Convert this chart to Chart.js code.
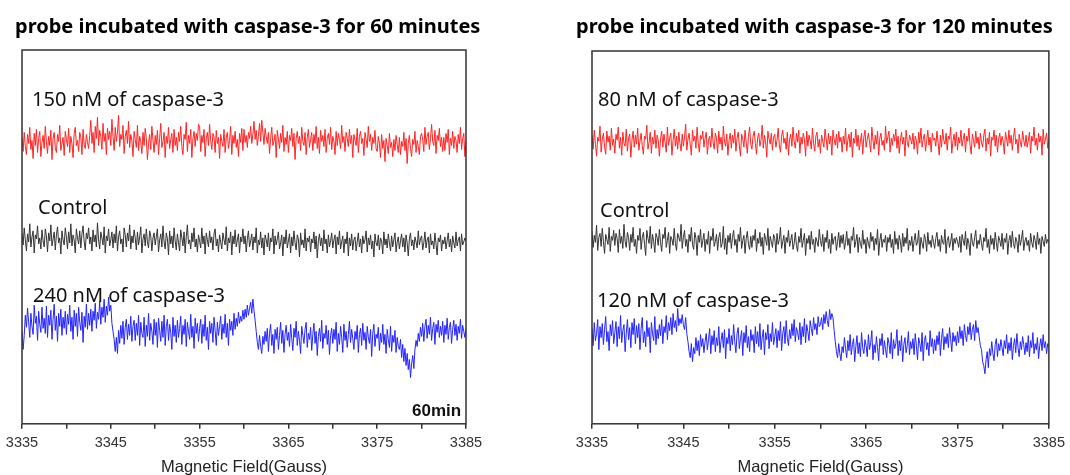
<!DOCTYPE html>
<html>
<head>
<meta charset="utf-8">
<script src="https://cdn.jsdelivr.net/npm/chart.js@4"></script>
<style>
  body { margin: 0; background: #fff; width: 1070px; height: 475px; position: relative; overflow: hidden; }
  canvas { position: absolute; top: 0; }
  .titulo { position: absolute; font-family: "Noto Sans", sans-serif; font-weight: bold; font-size: 20px; color: #000; white-space: nowrap; line-height: 28px; }
  .etiqueta { position: absolute; font-family: "Noto Sans", sans-serif; font-size: 20px; color: #111; white-space: nowrap; line-height: 24px; }
  .marca { position: absolute; font-family: "Liberation Sans", Arial, sans-serif; font-weight: bold; font-size: 17px; color: #111; line-height: 20px; }
</style>
</head>
<body>
<canvas id="graficoIzq" width="540" height="477" style="left:0"></canvas>
<canvas id="graficoDer" width="530" height="477" style="left:540px"></canvas>

<div class="titulo" style="left:15px; top:12px">probe incubated with caspase-3 for 60 minutes</div>
<div class="titulo" style="left:576px; top:12px">probe incubated with caspase-3 for 120 minutes</div>

<div class="etiqueta" style="left:32px; top:87px">150 nM of caspase-3</div>
<div class="etiqueta" style="left:38px; top:195px">Control</div>
<div class="etiqueta" style="left:33px; top:283px">240 nM of caspase-3</div>
<div class="marca" style="left:412px; top:401px">60min</div>

<div class="etiqueta" style="left:598px; top:87px">80 nM of caspase-3</div>
<div class="etiqueta" style="left:600px; top:198px">Control</div>
<div class="etiqueta" style="left:597px; top:288px">120 nM of caspase-3</div>

<script>
// campo magnetico: 3335 a 3385 G, una muestra cada 0.125 G
const campoInicio = 3335;
const campoPaso = 0.125;
const etiquetasCampo = [3335, 3345, 3355, 3365, 3375, 3385];

// 60 minutos
const rojo60 = [
  285,271,290,276,268,288,279,295,273,282,264,289,277,293,270,284,291,266,280,287,
  274,296,281,269,286,277,292,263,284,290,275,270,288,281,297,272,279,285,267,291,
  283,276,294,270,286,279,265,289,295,277,282,271,290,285,268,293,278,274,288,280,
  274,287,302,279,290,270,296,284,305,277,292,286,273,299,281,289,268,294,283,291,
  277,303,286,272,295,281,290,307,276,288,283,297,269,286,292,279,301,275,288,282,
  266,291,283,275,297,272,286,281,269,290,277,294,284,263,279,288,273,296,282,270,
  287,278,292,268,284,299,275,281,290,265,286,279,295,274,283,289,270,293,277,285,
  272,290,281,296,276,268,288,283,300,271,287,279,293,265,284,291,276,289,282,298,
  296,271,287,280,293,266,284,290,277,298,282,273,289,286,270,292,279,285,264,288,
  281,276,293,270,285,290,274,282,296,268,287,279,291,275,283,266,289,280,294,272,
  293,280,287,275,290,284,296,279,288,301,283,292,277,286,299,281,302,290,278,294,
  286,279,290,269,284,295,277,281,288,265,292,283,274,289,280,297,271,285,278,291,
  270,287,282,294,276,289,263,284,291,279,286,272,295,281,277,290,268,285,293,275,
  283,290,272,288,279,296,274,285,269,292,281,287,276,293,270,284,289,278,295,273,
  286,281,268,291,277,289,283,274,297,280,286,271,290,284,276,293,279,287,265,288,
  282,277,294,270,286,291,279,284,267,290,283,275,296,281,288,272,285,279,292,274,
  271,286,279,265,288,274,282,261,284,277,269,289,275,280,266,283,272,287,278,270,
  285,268,281,276,290,272,284,259,279,287,274,266,283,278,291,270,282,276,268,286,
  289,283,271,295,278,286,290,273,284,298,281,277,292,269,287,282,294,276,285,271,
  285,272,289,280,293,268,284,277,291,274,286,282,270,288,279,295,273,284,289,266,
  281
];
const control60 = [
  190,178,195,183,172,189,181,199,176,186,192,170,188,184,197,179,185,174,193,182,
  176,194,187,171,190,182,198,177,184,191,173,188,196,180,185,169,192,183,178,195,
  186,174,191,180,199,177,188,183,170,194,185,179,192,175,189,197,181,173,190,184,
  195,179,186,172,193,181,188,176,200,183,174,191,185,178,196,170,187,182,194,177,
  183,191,175,189,180,197,172,186,192,179,184,171,195,188,176,190,182,198,174,187,
  180,193,185,173,191,178,186,196,170,184,189,177,194,181,175,192,187,172,185,190,
  178,186,194,171,183,189,176,197,181,174,190,184,168,192,179,187,175,195,182,173,
  189,180,172,193,185,177,191,170,186,198,179,183,174,190,181,195,176,184,171,188,
  182,175,195,179,187,169,190,183,176,192,180,186,173,189,194,177,184,171,188,181,
  174,190,183,178,196,172,185,180,191,168,187,179,193,176,183,189,170,186,181,194,
  179,187,171,184,192,176,182,189,173,186,180,195,170,183,178,191,175,185,168,188,
  183,176,190,172,185,181,194,169,187,178,184,191,174,180,188,167,186,179,193,175,
  182,189,170,186,177,192,180,173,188,184,166,190,178,183,175,194,172,185,181,187,
  171,184,180,191,174,187,165,182,189,177,185,172,193,179,184,170,188,176,182,190,
  175,183,188,169,186,178,192,174,181,187,170,184,179,191,167,185,177,189,173,183,
  186,172,181,190,176,184,170,187,179,183,192,171,185,178,188,174,182,166,189,180,
  177,188,173,185,182,169,191,178,184,175,189,180,172,187,176,183,190,171,181,186,
  174,182,189,176,185,171,188,180,167,184,190,177,183,173,186,181,175,192,178,184,
  187,173,180,191,175,183,186,170,189,178,182,174,190,179,168,185,181,188,172,183,
  179,186,174,182,190,176,184,171,187,180,175,191,177,183,186,172,189,178,181,185,
  182
];
const azul60 = [
  92,74,88,108,96,115,101,86,110,97,89,118,100,107,83,112,99,91,116,95,
  105,90,117,86,108,98,113,84,104,119,93,107,82,110,97,114,88,106,95,112,
  89,109,99,118,92,106,84,113,97,110,87,116,101,93,111,81,107,96,119,94,
  110,98,114,92,112,103,120,95,111,104,122,99,116,106,124,101,117,108,126,112,
  118,100,92,84,72,86,70,93,80,98,85,102,79,96,104,84,99,88,107,82,
  97,103,83,100,88,108,78,101,90,86,106,77,98,87,110,83,100,92,79,104,
  88,101,76,105,93,82,102,86,108,78,97,104,83,99,91,74,106,87,98,81,
  103,86,95,107,79,98,89,104,77,101,92,84,109,86,97,75,105,90,100,82,
  95,104,80,99,87,108,83,96,74,102,90,100,81,106,93,78,101,88,97,107,
  84,99,90,109,86,100,78,104,93,102,88,110,94,105,97,111,100,107,102,113,
  104,114,106,118,108,115,121,110,124,113,103,92,81,74,88,77,70,87,79,92,
  82,95,72,90,99,78,89,70,94,84,96,74,88,101,80,93,71,89,98,83,
  91,77,99,85,73,95,86,102,78,92,83,70,97,88,80,94,101,76,90,84,
  96,73,89,100,80,92,68,87,95,82,103,75,90,85,98,79,93,69,88,95,
  80,94,84,101,72,90,79,97,86,71,99,83,92,76,89,102,81,94,85,74,
  92,84,98,71,89,95,78,100,83,91,74,97,86,80,94,67,90,99,77,89,
  85,96,73,90,81,99,79,89,70,94,84,76,97,72,88,81,93,71,86,77,
  74,84,66,79,62,75,58,70,54,64,46,60,68,55,74,83,77,90,82,96,
  87,100,82,97,104,85,98,89,106,83,95,101,79,99,91,103,86,97,88,102,
  81,98,89,105,84,96,101,80,94,103,88,99,83,97,90,104,85,98,92,86,
  94
];

// 120 minutos
const rojo120 = [
  288,274,293,279,267,286,282,297,271,284,290,276,269,292,281,287,273,295,278,284,
  270,289,283,296,275,286,268,291,280,277,294,272,285,289,266,283,292,276,288,279,
  295,273,282,290,277,269,287,284,298,274,281,291,270,286,279,293,275,288,283,267,
  284,292,276,289,281,271,296,278,285,290,268,283,294,277,287,274,291,280,272,289,
  277,286,299,273,284,290,279,268,293,282,287,275,296,280,271,288,284,292,276,285,
  291,269,283,287,276,295,281,274,290,285,270,292,279,286,273,297,282,277,289,268,
  283,290,275,288,280,294,272,285,291,278,267,289,284,276,293,281,270,287,296,279,
  274,287,292,280,269,285,290,277,283,298,275,288,281,266,292,284,279,290,273,286,
  289,276,283,295,278,271,287,293,280,285,274,291,268,284,289,277,296,282,275,290,
  281,293,270,286,279,290,284,267,292,277,288,283,274,295,280,272,287,291,276,284,
  270,288,282,276,294,285,273,290,279,287,268,293,284,278,289,275,292,281,286,271,
  287,279,295,272,283,289,276,291,266,285,280,294,277,288,273,282,290,269,286,293,
  276,284,290,281,271,296,283,274,288,279,292,268,285,290,278,283,273,297,280,286,
  292,271,285,278,289,282,294,275,287,270,283,291,279,286,267,293,281,276,288,284,
  279,290,274,287,283,269,291,280,295,276,284,289,272,282,293,278,286,271,290,283,
  285,277,292,281,268,288,276,294,283,279,290,273,287,284,296,270,282,289,277,291,
  273,286,280,293,277,284,290,271,287,282,295,278,269,289,283,276,292,280,286,274,
  290,281,276,288,294,272,285,279,291,267,286,283,293,277,288,271,284,290,278,287,
  282,269,291,284,277,293,280,288,273,286,295,279,284,270,289,281,276,292,283,277,
  288,276,283,291,270,287,282,296,278,285,273,290,281,287,268,294,279,284,290,275,
  283
];
const control120 = [
  192,176,188,181,198,173,186,190,177,195,182,170,189,184,179,196,172,187,183,193,
  178,190,185,171,194,180,187,175,199,182,176,191,186,173,189,181,196,177,184,170,
  188,183,195,174,186,191,179,168,193,185,180,197,175,189,182,171,190,186,178,194,
  181,172,189,185,196,176,183,191,170,187,184,178,195,180,173,190,186,182,199,175,
  186,193,177,184,171,189,182,196,179,174,191,185,168,188,181,194,176,183,190,172,
  184,179,192,170,187,183,195,177,182,189,173,186,191,176,180,197,174,185,169,188,
  181,190,175,186,193,178,184,171,189,182,196,175,183,188,170,185,192,179,174,187,
  176,188,183,194,172,185,180,191,177,186,169,190,184,178,195,173,187,182,176,189,
  185,171,190,179,184,196,175,182,188,170,186,181,193,177,183,189,174,180,191,178,
  172,187,181,195,176,183,190,168,185,180,188,174,192,179,184,171,186,182,177,194,
  183,177,189,172,186,181,193,175,184,170,190,179,185,187,173,182,191,176,188,180,
  189,174,181,192,178,185,170,187,183,196,176,182,189,171,186,180,175,193,179,184,
  170,186,180,175,191,182,187,173,185,179,194,168,183,190,176,184,181,188,172,186,
  181,189,176,184,170,192,179,185,174,188,182,171,190,177,186,180,195,173,183,178,
  187,172,183,190,178,181,193,169,186,180,175,189,184,172,191,179,183,176,188,181,
  175,185,191,177,184,172,188,181,179,194,170,183,187,176,182,190,173,185,180,186,
  182,176,187,171,189,183,178,192,174,185,180,168,190,181,177,186,193,175,183,179,
  189,180,173,186,182,195,176,184,170,188,179,185,174,191,181,172,187,183,177,190,
  174,185,181,190,169,183,188,176,192,180,175,186,182,171,189,178,184,193,173,182,
  186,178,183,172,190,181,176,188,183,174,191,179,185,170,187,182,177,189,180,184,
  181
];
const azul120 = [
  95,78,101,83,90,104,74,97,86,100,79,94,107,82,92,73,99,88,103,80,
  91,102,77,97,85,108,81,93,99,72,90,104,84,96,76,101,89,105,80,98,
  86,100,74,95,106,81,92,77,103,87,96,71,101,90,83,107,79,94,85,99,
  88,104,80,97,91,108,84,101,93,106,89,110,96,103,92,115,98,105,100,109,
  99,94,106,90,82,72,66,80,62,76,70,86,73,83,68,89,77,85,71,82,
  90,74,84,95,70,88,79,93,72,86,78,97,71,83,91,76,94,65,86,80,
  95,73,88,79,99,82,71,90,96,75,85,93,68,91,81,98,76,87,72,94,
  83,89,71,97,80,92,77,100,74,86,94,69,91,84,99,75,90,82,101,79,
  87,95,76,93,83,102,73,90,97,80,103,86,78,94,85,100,88,104,82,96,
  91,84,101,79,97,87,105,81,99,92,83,103,95,88,106,94,100,89,107,97,
  99,106,94,109,100,112,103,97,114,104,110,106,93,82,72,66,80,70,63,77,
  71,86,75,66,83,73,89,69,79,85,62,77,88,70,81,67,91,76,70,84,
  78,67,89,74,81,93,64,79,71,87,76,63,85,78,90,69,83,74,66,86,
  80,70,91,65,84,75,80,94,68,83,73,88,62,79,86,71,78,92,69,82,
  75,85,69,90,78,64,86,80,72,91,63,83,88,74,81,68,93,77,85,70,
  84,73,88,79,92,68,85,95,74,87,80,90,76,96,85,72,91,82,88,78,
  92,81,97,85,93,78,99,88,82,97,89,101,84,94,99,83,103,91,96,87,
  78,74,62,58,50,64,72,56,75,68,82,70,63,79,85,67,80,73,84,76,
  68,83,75,89,70,81,73,86,64,78,85,71,90,76,67,82,74,87,79,69,
  81,72,88,67,83,76,91,70,80,74,86,65,78,85,73,89,76,82,70,80,
  77
];

function aPuntos(valores) {
  return valores.map((v, i) => ({ x: campoInicio + i * campoPaso, y: v }));
}

// marco negro alrededor del area del grafico
const marco = {
  id: "marco",
  afterDraw(chart) {
    const { ctx, chartArea: a } = chart;
    ctx.save();
    ctx.strokeStyle = "#333";
    ctx.lineWidth = 1.5;
    ctx.strokeRect(a.left, a.top, a.right - a.left, a.bottom - a.top);
    ctx.restore();
  }
};

function graficar(id, series, padding) {
  const ctx = document.getElementById(id).getContext("2d");
  const colores = ["#ff2424", "#333333", "#2424ff"];
  return new Chart(ctx, {
    type: "line",
    data: {
      datasets: series.map((s, i) => ({
        data: aPuntos(s),
        borderColor: colores[i],
        borderWidth: 1,
        pointRadius: 0,
        tension: 0,
        fill: false
      }))
    },
    options: {
      responsive: false,
      animation: false,
      layout: { padding: padding },
      plugins: { legend: { display: false }, tooltip: { enabled: false } },
      scales: {
        x: {
          type: "linear",
          min: 3335,
          max: 3385,
          border: { display: false },
          grid: { drawOnChartArea: false, tickLength: 5, color: "#333", lineWidth: 1.5 },
          ticks: {
            stepSize: 5,
            padding: 5,
            color: "#333",
            font: { family: "Liberation Sans", size: 14.5 },
            maxRotation: 0,
            autoSkip: false,
            callback: (v) => etiquetasCampo.includes(v) ? String(v) : ""
          },
          title: {
            display: true,
            text: "Magnetic Field(Gauss)",
            color: "#222",
            font: { family: "Liberation Sans", size: 16.5 },
            padding: { top: 1, bottom: 0 }
          }
        },
        y: { display: false, min: 0, max: 372 }
      }
    },
    plugins: [marco]
  });
}

graficar("graficoIzq", [rojo60, control60, azul60], { top: 50, left: 22, right: 74, bottom: 0 });
graficar("graficoDer", [rojo120, control120, azul120], { top: 51, left: 52, right: 21, bottom: 0 });
</script>
</body>
</html>
